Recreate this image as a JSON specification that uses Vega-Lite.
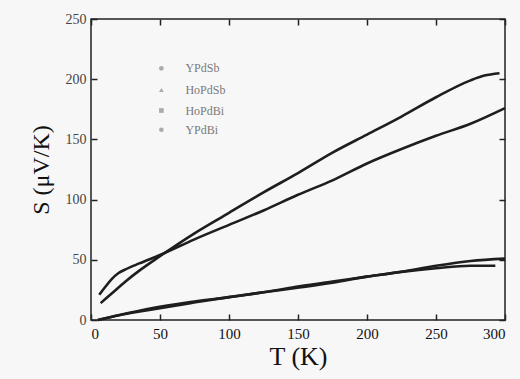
{
  "$schema": "https://vega.github.io/schema/vega-lite/v6.json",
  "width": 414,
  "height": 301,
  "autosize": {"type": "none"},
  "padding": {"left": 91, "top": 19, "right": 15, "bottom": 59},
  "background": "#f7f7f7",
  "config": {
    "view": {"stroke": "#222", "strokeWidth": 1.5}
  },
  "datasets": {
    "curves": [
      {"sample": "HoPdSb", "T": 7, "S": 14},
      {"sample": "HoPdSb", "T": 15, "S": 22},
      {"sample": "HoPdSb", "T": 25, "S": 32},
      {"sample": "HoPdSb", "T": 35, "S": 41},
      {"sample": "HoPdSb", "T": 50, "S": 53},
      {"sample": "HoPdSb", "T": 75, "S": 72},
      {"sample": "HoPdSb", "T": 100, "S": 89},
      {"sample": "HoPdSb", "T": 125, "S": 106},
      {"sample": "HoPdSb", "T": 150, "S": 122},
      {"sample": "HoPdSb", "T": 175, "S": 139},
      {"sample": "HoPdSb", "T": 200, "S": 154},
      {"sample": "HoPdSb", "T": 225, "S": 169},
      {"sample": "HoPdSb", "T": 250, "S": 185},
      {"sample": "HoPdSb", "T": 275, "S": 199},
      {"sample": "HoPdSb", "T": 285, "S": 203},
      {"sample": "HoPdSb", "T": 296, "S": 205},
      {"sample": "YPdSb", "T": 6, "S": 21},
      {"sample": "YPdSb", "T": 10, "S": 27},
      {"sample": "YPdSb", "T": 15, "S": 34},
      {"sample": "YPdSb", "T": 20, "S": 39},
      {"sample": "YPdSb", "T": 25, "S": 42},
      {"sample": "YPdSb", "T": 35, "S": 47},
      {"sample": "YPdSb", "T": 50, "S": 54},
      {"sample": "YPdSb", "T": 75, "S": 67},
      {"sample": "YPdSb", "T": 100, "S": 79},
      {"sample": "YPdSb", "T": 125, "S": 91},
      {"sample": "YPdSb", "T": 150, "S": 104},
      {"sample": "YPdSb", "T": 175, "S": 116},
      {"sample": "YPdSb", "T": 200, "S": 130},
      {"sample": "YPdSb", "T": 225, "S": 142},
      {"sample": "YPdSb", "T": 250, "S": 153},
      {"sample": "YPdSb", "T": 275, "S": 163},
      {"sample": "YPdSb", "T": 300, "S": 176},
      {"sample": "HoPdBi", "T": 5, "S": 0},
      {"sample": "HoPdBi", "T": 20, "S": 4},
      {"sample": "HoPdBi", "T": 40, "S": 9},
      {"sample": "HoPdBi", "T": 72, "S": 15},
      {"sample": "HoPdBi", "T": 100, "S": 19},
      {"sample": "HoPdBi", "T": 125, "S": 23},
      {"sample": "HoPdBi", "T": 151, "S": 27},
      {"sample": "HoPdBi", "T": 175, "S": 31},
      {"sample": "HoPdBi", "T": 200, "S": 36},
      {"sample": "HoPdBi", "T": 225, "S": 40},
      {"sample": "HoPdBi", "T": 250, "S": 45},
      {"sample": "HoPdBi", "T": 275, "S": 49},
      {"sample": "HoPdBi", "T": 300, "S": 51},
      {"sample": "YPdBi", "T": 5, "S": 0},
      {"sample": "YPdBi", "T": 20, "S": 4},
      {"sample": "YPdBi", "T": 40, "S": 8},
      {"sample": "YPdBi", "T": 72, "S": 14},
      {"sample": "YPdBi", "T": 100, "S": 19},
      {"sample": "YPdBi", "T": 125, "S": 23},
      {"sample": "YPdBi", "T": 151, "S": 28},
      {"sample": "YPdBi", "T": 175, "S": 32},
      {"sample": "YPdBi", "T": 200, "S": 36},
      {"sample": "YPdBi", "T": 225, "S": 40},
      {"sample": "YPdBi", "T": 250, "S": 43},
      {"sample": "YPdBi", "T": 275, "S": 45},
      {"sample": "YPdBi", "T": 293, "S": 45}
    ],
    "legend": [
      {"label": "YPdSb", "shape": "circle", "T": 51, "S": 209},
      {"label": "HoPdSb", "shape": "triangle-up", "T": 51, "S": 191},
      {"label": "HoPdBi", "shape": "square", "T": 51, "S": 174},
      {"label": "YPdBi", "shape": "circle", "T": 51, "S": 158}
    ]
  },
  "layer": [
    {
      "data": {"name": "curves"},
      "mark": {"type": "line", "interpolate": "monotone", "color": "#1e1e1e", "strokeWidth": 2.6},
      "encoding": {
        "x": {"field": "T", "type": "quantitative", "scale": {"domain": [0, 300], "nice": false},
          "axis": {"orient": "bottom", "tickCount": 6, "grid": false, "domain": false, "tickSize": -6, "tickColor": "#222", "tickWidth": 1.5, "labelPadding": 12, "labelFont": "Liberation Serif", "labelFontSize": 15, "labelColor": "#111", "title": "T (K)", "titleFont": "Liberation Serif", "titleFontSize": 26, "titleFontWeight": "normal", "titleColor": "#111", "titlePadding": 2}},
        "y": {"field": "S", "type": "quantitative", "scale": {"domain": [0, 250], "nice": false},
          "axis": {"orient": "left", "tickCount": 5, "grid": false, "domain": false, "tickSize": -6, "tickColor": "#222", "tickWidth": 1.5, "labelPadding": 11, "labelFont": "Liberation Serif", "labelFontSize": 14, "labelColor": "#444", "title": "S (μV/K)", "titleFont": "Liberation Serif", "titleFontSize": 24, "titleFontWeight": "normal", "titleColor": "#111", "titlePadding": 12}},
        "detail": {"field": "sample"}
      }
    },
    {
      "data": {"name": "legend"},
      "mark": {"type": "point", "filled": true, "color": "#8a8a8a", "size": 22},
      "encoding": {
        "x": {"field": "T", "type": "quantitative", "axis": {"orient": "top", "tickCount": 6, "grid": false, "labels": false, "domain": false, "tickSize": -6, "tickColor": "#222", "tickWidth": 1.5, "title": null}},
        "y": {"field": "S", "type": "quantitative", "axis": {"orient": "right", "tickCount": 5, "grid": false, "labels": false, "domain": false, "tickSize": -6, "tickColor": "#222", "tickWidth": 1.5, "title": null}},
        "shape": {"field": "shape", "type": "nominal", "scale": null}
      }
    },
    {
      "data": {"name": "legend"},
      "mark": {"type": "text", "align": "left", "baseline": "middle", "dx": 24, "fontSize": 12, "color": "#7a7a7a", "font": "Liberation Serif"},
      "encoding": {
        "x": {"field": "T", "type": "quantitative", "axis": null},
        "y": {"field": "S", "type": "quantitative", "axis": null},
        "text": {"field": "label"}
      }
    }
  ],
  "resolve": {"axis": {"x": "independent", "y": "independent"}}
}
